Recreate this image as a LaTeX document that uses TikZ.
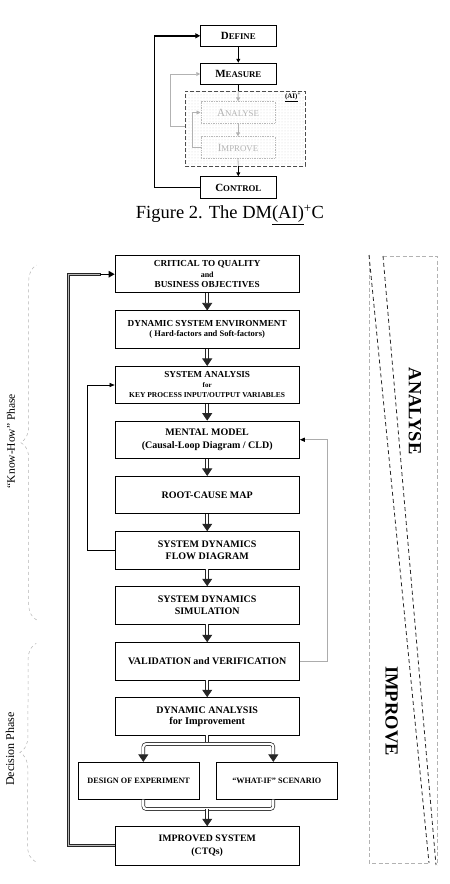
\documentclass[tikz,border=0pt]{standalone}
\usepackage{fontspec}
\setmainfont{Liberation Serif}
\usetikzlibrary{arrows.meta,patterns,decorations.pathreplacing,calc}
\newcommand\fs[2]{\fontsize{#1}{#2}\selectfont}
\newcommand\fsc[2]{{\fs{11}{11}#1}{\fs{8.8}{9}#2}}
\begin{document}
\begin{tikzpicture}[x=1pt,y=-1pt,
  topbox/.style={draw, line width=0.8pt, minimum width=75.3pt, minimum height=21.7pt, inner sep=0pt, font=\bfseries},
  graybox/.style={draw=gray!55, densely dotted, line width=0.7pt, minimum width=74.3pt, minimum height=21.6pt, inner sep=0pt, text=gray!60},
  mainbox/.style={draw, line width=0.8pt, minimum width=184.3pt, minimum height=37.3pt, align=center, inner sep=1pt},
  smallbox/.style={draw, line width=0.8pt, minimum width=121pt, minimum height=37pt, align=center, inner sep=1pt, font=\bfseries\fs{8.2}{10}},
  dblline/.style={double=white, double distance=2.2pt, line width=0.7pt, draw=black!85},
  dblarrow/.style={dblline, -{Triangle[length=7.5pt,width=10pt]}},
  tip/.style={-{Triangle[length=4pt,width=4pt]}},
  brc/.style={gray!60, dashed, line width=0.5pt, decorate, decoration={brace, amplitude=16pt}},
  edge/.style={gray!60, dashed, line width=0.8pt, dash pattern=on 4pt off 2.5pt},
  diag/.style={black!85, dashed, line width=0.8pt, dash pattern=on 4pt off 3pt}
]
\useasboundingbox (0,0) rectangle (450,884);

% ---------- top figure ----------
\node[draw=black!70, dashed, line width=0.9pt, dash pattern=on 4pt off 2pt, pattern=dots, pattern color=gray!35,
      minimum width=120pt, minimum height=75pt, inner sep=0pt] (ai) at (245,128.5) {};
\node[font=\bfseries\fs{7}{7}] (ailabel) at (293,97.5) {\underline{(AI)}\textsuperscript{+}};
\node[topbox] (define) at (238.3,35.8) {\fsc{D}{EFINE}};
\node[topbox] (measure) at (238.3,74) {\fsc{M}{EASURE}};
\node[graybox] (analyse) at (238,112.5) {\fsc{A}{NALYSE}};
\node[graybox] (improve) at (238,147.5) {\fsc{I}{MPROVE}};
\node[topbox] (control) at (238.3,187.5) {\fsc{C}{ONTROL}};
\node[font=\fs{18.5}{20}] (cap) at (230,215) {Figure 2. The DM\underline{(AI)}\textsuperscript{+}C};

\draw[line width=1.2pt, tip] (define) -- (measure);
\draw[gray!60, line width=0.8pt, tip] (measure) -- (analyse);
\draw[line width=1.2pt] (measure.south) -- (measure.south |- ai.north);
\draw[gray!60, line width=0.8pt, tip] (analyse) -- (improve);
\draw[gray!60, line width=0.8pt] (improve.south) -- (control.north |- ai.south);
\draw[line width=1.2pt, tip] (control.north |- ai.south) -- (control.north);
\draw[line width=1.4pt, -{Triangle[length=5pt,width=5pt]}] (control.west) -- ++(-45.7,0) |- (define.west);
\draw[gray!60, line width=0.9pt, tip] ([yshift=1.8pt]ai.west) -- ++(-14.3,0) |- (measure.west);
\draw[gray!60, line width=0.8pt, tip] (improve.west) -- ++(-8.2,0) |- (analyse.west);

% ---------- main chart ----------
\node[mainbox, font=\bfseries\fs{9.2}{10.8}] (ctq) at (207.2,274.2) {CRITICAL TO QUALITY\\{\fs{8}{10.8}and}\\BUSINESS OBJECTIVES};
\node[mainbox, font=\bfseries\fs{9.2}{10.6}] (dse) at (207.2,329.5) {DYNAMIC SYSTEM ENVIRONMENT\\{\fs{8.5}{10.6}( Hard-factors and Soft-factors)}};
\node[mainbox, font=\bfseries\fs{9.2}{10}] (sa) at (207.2,385) {SYSTEM ANALYSIS\\{\fs{7}{10}for}\\{\fs{7.5}{10}KEY PROCESS INPUT/OUTPUT VARIABLES}};
\node[mainbox, font=\bfseries\fs{10}{12.6}] (mm) at (207.2,439.7) {MENTAL MODEL\\(Causal-Loop Diagram / CLD)};
\node[mainbox, font=\bfseries\fs{10}{12}] (rcm) at (207.2,495) {ROOT-CAUSE MAP};
\node[mainbox, font=\bfseries\fs{10}{12}] (sdfd) at (207.2,550.3) {SYSTEM DYNAMICS\\FLOW DIAGRAM};
\node[mainbox, font=\bfseries\fs{10}{12.7}] (sds) at (207.2,605.3) {SYSTEM DYNAMICS\\SIMULATION};
\node[mainbox, font=\bfseries\fs{10}{12}] (vv) at (207.2,661.3) {VALIDATION and VERIFICATION};
\node[mainbox, font=\bfseries\fs{10}{11}] (da) at (207.2,716.3) {DYNAMIC ANALYSIS\\{\fs{10.3}{11}for Improvement}};
\node[smallbox] (doe) at (138.7,780.8) {DESIGN OF EXPERIMENT};
\node[smallbox] (wis) at (276.8,780.8) {“WHAT-IF” SCENARIO};
\node[mainbox, minimum height=38.3pt, font=\bfseries\fs{9.8}{12.3}] (imp) at (207.2,845.8) {IMPROVED SYSTEM\\(CTQs)};

\draw[dblarrow] (ctq) -- (dse);
\draw[dblarrow] (dse) -- (sa);
\draw[dblarrow] (sa) -- (mm);
\draw[dblarrow] (mm) -- (rcm);
\draw[dblarrow] (rcm) -- (sdfd);
\draw[dblarrow] (sdfd) -- (sds);
\draw[dblarrow] (sds) -- (vv);
\draw[dblarrow] (vv) -- (da);

\coordinate (brn) at (207.2,744);
\coordinate (mrg) at (207.2,809);
\draw[dblline] (da.south) -- (brn);
\draw[dblarrow, rounded corners=3pt] (brn) -| ([xshift=4.6pt]doe.north);
\draw[dblarrow, rounded corners=3pt] (brn) -| ([xshift=-3.5pt]wis.north);
\draw[dblline, rounded corners=3pt] ([xshift=4.6pt]doe.south) |- (mrg);
\draw[dblline, rounded corners=3pt] ([xshift=-3.5pt]wis.south) |- (mrg);
\draw[dblarrow] (mrg) -- (imp);

\draw[draw=black!85, double=gray!55, double distance=1.1pt, line width=0.9pt] (imp.west) -- ++(-46,0) |- ([xshift=-14pt]ctq.west);
\draw[line width=1.3pt, -{Triangle[length=6pt,width=6.5pt]}] ([xshift=-14.5pt]ctq.west) -- (ctq.west);
\draw[line width=0.6pt, -{Triangle[length=5pt,width=4pt]}] (sdfd.west) -- ++(-27.4,0) |- (sa.west);
\draw[gray!65, line width=1pt, -{Triangle[length=5pt,width=4pt,black]}] (vv.east) -- ++(27.4,0) |- (mm.east);

% ---------- braces ----------
\draw[brc] (36.7,620) -- (36.7,265);
\draw[brc] (35.5,861.7) -- (36.2,643.3);
\node[rotate=90, font=\fs{11.5}{12}] (kh) at (11,441) {“Know-How” Phase};
\node[rotate=90, font=\fs{12}{12}] (dp) at (10,749) {Decision Phase};

% ---------- analyse / improve ----------
\draw[edge] (383,256) -- (437,256) -- (437,865);
\draw[edge] (369,255) -- (369,863) -- (429,863);
\draw[diag] (369,255) -- (429,863);
\draw[diag] (383,256) -- (436,865);
\node[rotate=-90, font=\bfseries\fs{18.5}{20}] (an) at (415,411) {ANALYSE};
\node[rotate=-90, font=\bfseries\fs{18.5}{20}] (im) at (391.7,711) {IMPROVE};
\end{tikzpicture}
\end{document}
